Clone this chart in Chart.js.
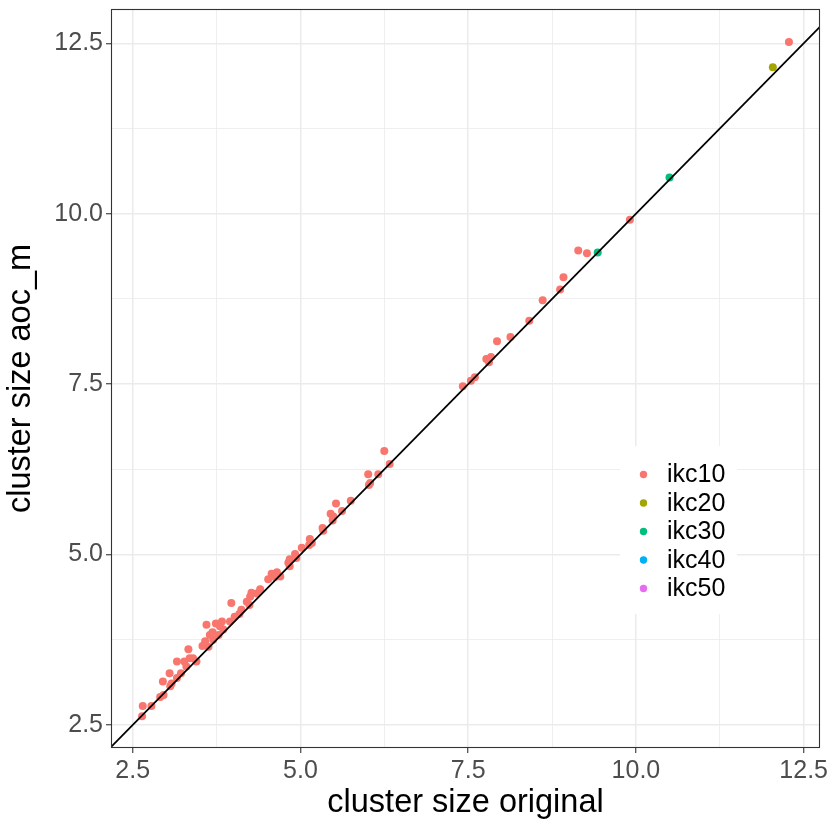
<!DOCTYPE html>
<html>
<head>
<meta charset="utf-8">
<script src="https://cdn.jsdelivr.net/npm/chart.js@4/dist/chart.umd.min.js"></script>
<style>
  html, body { margin: 0; padding: 0; background: #ffffff; }
  #wrap { width: 830px; height: 830px; }
</style>
</head>
<body>
<div id="wrap"><canvas id="c" width="830" height="830"></canvas></div>
<script>
// ---- data ----
const seriesNames = ['ikc10', 'ikc20', 'ikc30', 'ikc40', 'ikc50'];
const seriesColors = ['#F8766D', '#A3A500', '#00BF7D', '#00B0F6', '#E76BF3'];

const ikc10X = [2.64,2.65,2.78,2.91,2.96,2.95,3.06,3.08,3.05,3.16,3.22,3.16,3.27,3.30,3.35,3.40,3.45,3.33,3.54,3.63,
  3.58,3.70,3.65,3.78,3.69,3.85,3.60,3.74,3.80,3.83,3.95,4.02,4.09,4.12,3.97,4.20,4.24,4.25,4.27,4.35,
  4.40,4.52,4.57,4.62,4.65,4.70,4.82,4.84,4.84,4.92,4.94,5.02,5.14,5.17,5.13,5.33,5.34,5.45,5.49,5.48,
  5.53,5.62,5.75,6.01,6.16,6.04,6.02,6.25,6.33,7.42,7.54,7.60,7.77,7.81,7.84,7.93,8.13,8.41,8.61,8.87,
  8.92,9.14,9.27,9.91,12.28];
const ikc10Y = [2.63,2.78,2.78,2.91,2.94,3.14,3.07,3.11,3.26,3.19,3.26,3.43,3.43,3.36,3.48,3.48,3.43,3.61,3.66,3.65,
  3.73,3.75,3.82,3.82,3.86,3.90,3.97,3.99,3.95,4.02,4.02,4.09,4.13,4.19,4.29,4.31,4.26,4.38,4.44,4.43,
  4.49,4.64,4.72,4.67,4.74,4.68,4.88,4.83,4.93,5.01,4.95,5.10,5.23,5.17,5.14,5.39,5.35,5.60,5.56,5.50,
  5.75,5.64,5.79,6.18,6.18,6.05,6.02,6.52,6.33,7.47,7.55,7.60,7.87,7.82,7.90,8.13,8.19,8.43,8.73,8.89,
  9.07,9.46,9.42,9.91,12.52];
const ikc20X = [12.04];
const ikc20Y = [12.15];
const ikc30X = [9.43, 10.50];
const ikc30Y = [9.43, 10.53];
const ikc40X = [];
const ikc40Y = [];
const ikc50X = [];
const ikc50Y = [];

const xLimits = [2.177, 12.743];
const yLimits = [2.163, 13.003];
const majorTicks = [2.5, 5.0, 7.5, 10.0, 12.5];
const minorTicks = [3.75, 6.25, 8.75, 11.25];

const xTitle = 'cluster size original';
const yTitle = 'cluster size aoc_m';

// ---- build ----
const seriesX = [ikc10X, ikc20X, ikc30X, ikc40X, ikc50X];
const seriesY = [ikc10Y, ikc20Y, ikc30Y, ikc40Y, ikc50Y];
const pts = (xs, ys) => xs.map((x, i) => ({ x: x, y: ys[i] }));

const allTicks = majorTicks.concat(minorTicks).sort((a, b) => a - b);
const isMajor = v => majorTicks.some(m => Math.abs(m - v) < 1e-9);

const POINT_R = 4;
const datasets = seriesNames.map((name, i) => ({
  label: name,
  data: pts(seriesX[i], seriesY[i]),
  backgroundColor: seriesColors[i],
  borderColor: seriesColors[i],
  borderWidth: 0,
  pointRadius: POINT_R,
  pointHoverRadius: POINT_R,
  order: 1
}));
// identity line y = x across the panel
const lo = Math.min(xLimits[0], yLimits[0]) - 1;
const hi = Math.max(xLimits[1], yLimits[1]) + 1;
datasets.push({
  type: 'line',
  label: '__identity',
  data: [{ x: lo, y: lo }, { x: hi, y: hi }],
  borderColor: '#000000',
  borderWidth: 1.7,
  pointRadius: 0,
  fill: false,
  order: 0
});

const FONT = "'Liberation Sans', Arial, Helvetica, sans-serif";

const panelPlugin = {
  id: 'panel',
  afterDatasetsDraw(chart) {
    const a = chart.chartArea, ctx = chart.ctx;
    ctx.save();
    ctx.strokeStyle = '#333333';
    ctx.lineWidth = 1.1;
    ctx.strokeRect(a.left + 0.5, a.top + 0.5, a.right - a.left - 1, a.bottom - a.top - 1);
    ctx.restore();
  },
  afterDraw(chart) {
    const ctx = chart.ctx;
    const o = chart.options.plugins.panel;
    ctx.save();
    ctx.fillStyle = '#ffffff';
    ctx.fillRect(o.boxLeft, o.boxTop, o.boxWidth, o.boxHeight);
    ctx.font = o.fontSize + 'px ' + FONT;
    ctx.textBaseline = 'middle';
    ctx.textAlign = 'left';
    let row = 0;
    chart.data.datasets.forEach(ds => {
      if (ds.label.startsWith('__')) return;
      const y = o.firstRowY + row * o.rowStep;
      ctx.fillStyle = ds.backgroundColor;
      ctx.beginPath();
      ctx.arc(o.dotX, y, 3.7, 0, Math.PI * 2);
      ctx.fill();
      ctx.fillStyle = '#000000';
      ctx.fillText(ds.label, o.textX, y + 1);
      row++;
    });
    ctx.restore();
  }
};

const gridColor = '#EBEBEB';
function axisCommon(limits, title, isX) {
  return {
    type: 'linear',
    min: limits[0],
    max: limits[1],
    afterBuildTicks: (scale) => { scale.ticks = allTicks.map(v => ({ value: v })); },
    afterFit: (scale) => {
      if (isX) scale.height = 82; else scale.width = 111;
      scale.paddingTop = 0; scale.paddingBottom = 0;
      scale.paddingLeft = 0; scale.paddingRight = 0;
    },
    ticks: {
      autoSkip: false,
      maxRotation: 0,
      includeBounds: false,
      color: '#4D4D4D',
      font: { family: FONT, size: 25 },
      padding: 3,
      callback: (v) => isMajor(v) ? v.toFixed(1) : ''
    },
    grid: {
      color: gridColor,
      lineWidth: (ctx) => (ctx.tick && isMajor(ctx.tick.value)) ? 1.5 : 0.8,
      drawTicks: true,
      tickLength: 5,
      tickWidth: 1.1,
      tickColor: (ctx) => (ctx.tick && isMajor(ctx.tick.value)) ? '#333333' : 'rgba(0,0,0,0)'
    },
    border: { display: false },
    title: {
      display: true,
      text: title,
      color: '#000000',
      font: { family: FONT, size: 32.5 },
      padding: isX ? { top: 0, bottom: 7 } : { top: 2, bottom: 0 }
    }
  };
}

new Chart(document.getElementById('c'), {
  type: 'scatter',
  data: { datasets: datasets },
  options: {
    responsive: false,
    animation: false,
    devicePixelRatio: 1,
    layout: { padding: { left: 0, right: 10, top: 9, bottom: 0 } },
    plugins: {
      legend: { display: false },
      tooltip: { enabled: false },
      panel: {
        boxLeft: 620, boxTop: 446, boxWidth: 117, boxHeight: 168,
        dotX: 643.5, textX: 667, firstRowY: 474.5, rowStep: 28.5, fontSize: 25
      }
    },
    scales: {
      x: axisCommon(xLimits, xTitle, true),
      y: axisCommon(yLimits, yTitle, false)
    }
  },
  plugins: [panelPlugin]
});
</script>
</body>
</html>
